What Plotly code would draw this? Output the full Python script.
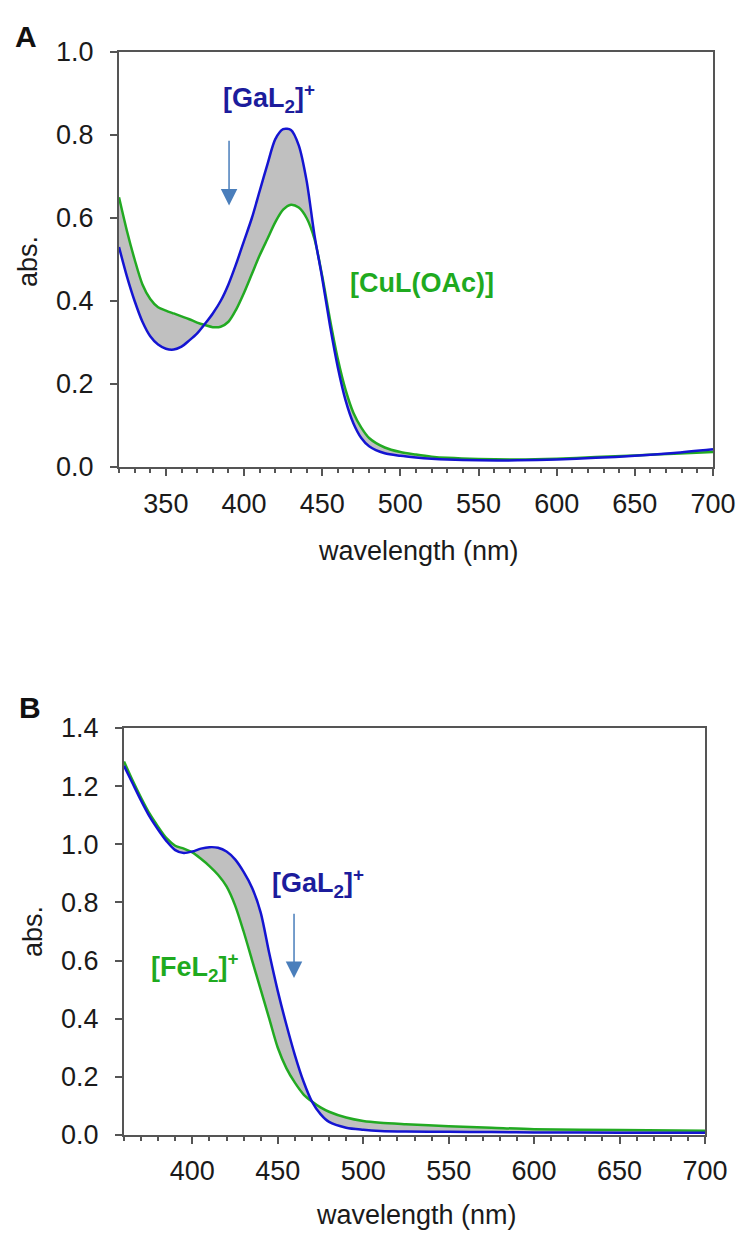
import plotly.graph_objects as go

# ---------------- data ----------------
wl_a = [320, 325, 330, 335, 340, 345, 350, 355, 360, 365, 370, 375, 380, 385, 390,
        395, 400, 405, 410, 415, 420, 425, 430, 435, 440, 445, 450, 455, 460, 465,
        470, 475, 480, 490, 500, 510, 520, 530, 550, 575, 600, 625, 650, 675, 700]
ga_a = [0.53, 0.46, 0.40, 0.35, 0.315, 0.295, 0.285, 0.283, 0.29, 0.305, 0.322, 0.345, 0.37, 0.40, 0.44,
        0.49, 0.545, 0.60, 0.665, 0.73, 0.79, 0.814, 0.812, 0.775, 0.69, 0.56, 0.455, 0.34, 0.24, 0.16,
        0.105, 0.07, 0.05, 0.033, 0.027, 0.023, 0.02, 0.018, 0.016, 0.016, 0.018, 0.022, 0.027, 0.034, 0.043]
cu_a = [0.65, 0.57, 0.50, 0.44, 0.405, 0.385, 0.377, 0.37, 0.363, 0.356, 0.348, 0.342, 0.337, 0.338, 0.35,
        0.38, 0.42, 0.465, 0.51, 0.55, 0.59, 0.62, 0.632, 0.625, 0.60, 0.55, 0.46, 0.355, 0.26, 0.185,
        0.13, 0.095, 0.07, 0.047, 0.036, 0.03, 0.025, 0.022, 0.019, 0.018, 0.02, 0.024, 0.028, 0.032, 0.036]

wl_b = [360, 365, 370, 375, 380, 385, 390, 395, 400, 405, 410, 415, 420, 425, 430, 435, 440,
        445, 450, 455, 460, 465, 470, 475, 480, 490, 500, 510, 525, 550, 575, 600, 650, 700]
ga_b = [1.27, 1.21, 1.15, 1.095, 1.05, 1.01, 0.98, 0.97, 0.975, 0.985, 0.99, 0.988, 0.975, 0.948, 0.905, 0.85, 0.765,
        0.625, 0.495, 0.38, 0.275, 0.185, 0.115, 0.072, 0.045, 0.025, 0.018, 0.014, 0.012, 0.011, 0.010, 0.009, 0.008, 0.008]
fe_b = [1.285, 1.22, 1.16, 1.105, 1.06, 1.02, 0.995, 0.985, 0.972, 0.95, 0.925, 0.895, 0.855, 0.79, 0.70, 0.60, 0.50,
        0.40, 0.30, 0.23, 0.18, 0.14, 0.115, 0.095, 0.08, 0.06, 0.048, 0.042, 0.037, 0.030, 0.025, 0.020, 0.017, 0.015]

yticks_a = [0.0, 0.2, 0.4, 0.6, 0.8, 1.0]
yticks_b = [0.0, 0.2, 0.4, 0.6, 0.8, 1.0, 1.2, 1.4]

# ---------------- styles ----------------
BLUE = "#1414d2"
GREEN = "#22aa22"
BLUE_TXT = "#1c1c9c"
GREEN_TXT = "#1faa1f"
FILL = "#c0c0c0"
AXC = "#555555"
ARROW = "#4a7ebb"
TXT = "#1a1a1a"
FONT = "Liberation Sans, Arial, sans-serif"
FS = 27

line_kw = dict(width=2.5, shape="spline", smoothing=0.8)

fig = go.Figure()
fig.add_trace(go.Scatter(x=wl_a, y=cu_a, mode="lines", xaxis="x", yaxis="y",
                         line=dict(color=GREEN, **line_kw), name="[CuL(OAc)]"))
fig.add_trace(go.Scatter(x=wl_a, y=ga_a, mode="lines", xaxis="x", yaxis="y",
                         fill="tonexty", fillcolor=FILL,
                         line=dict(color=BLUE, **line_kw), name="[GaL2]+"))
fig.add_trace(go.Scatter(x=wl_b, y=fe_b, mode="lines", xaxis="x2", yaxis="y2",
                         line=dict(color=GREEN, **line_kw), name="[FeL2]+"))
fig.add_trace(go.Scatter(x=wl_b, y=ga_b, mode="lines", xaxis="x2", yaxis="y2",
                         fill="tonexty", fillcolor=FILL,
                         line=dict(color=BLUE, **line_kw), name="[GaL2]+"))

W, H = 741, 1234


def xdom(l, r):
    return [l / W, r / W]


def ydom(top, bot):
    return [(H - bot) / H, (H - top) / H]


axis_common = dict(showline=True, linecolor=AXC, linewidth=2, mirror=True,
                   ticks="outside", tickcolor=AXC, tickwidth=1.5, ticklen=7,
                   showgrid=False, zeroline=False, automargin=False,
                   tickfont=dict(family=FONT, size=FS, color=TXT))
minor_kw = dict(dtick=10, ticks="outside", ticklen=4, tickcolor=AXC, tickwidth=1.5)

fig.update_layout(
    width=W, height=H, margin=dict(l=0, r=0, t=0, b=0),
    paper_bgcolor="white", plot_bgcolor="white", showlegend=False,
    xaxis=dict(domain=xdom(119, 713), range=[320, 700], anchor="y",
               tick0=300, dtick=50, ticklabelstandoff=5,
               minor=dict(tick0=320, **minor_kw), **axis_common),
    yaxis=dict(domain=ydom(52, 467), range=[0, 1.0], anchor="x",
               tickvals=yticks_a, tickformat=".1f", ticklabelstandoff=11, **axis_common),
    xaxis2=dict(domain=xdom(124, 705), range=[360, 700], anchor="y2",
                tick0=300, dtick=50, ticklabelstandoff=4,
                minor=dict(tick0=360, **minor_kw), **axis_common),
    yaxis2=dict(domain=ydom(728, 1135), range=[0, 1.4], anchor="x2",
                tickvals=yticks_b, tickformat=".1f", ticklabelstandoff=11, **axis_common),
)

title_font = dict(family=FONT, size=FS, color=TXT)
lab_font = dict(family=FONT, size=27)


def paper(xp, yp):
    return dict(xref="paper", yref="paper", x=xp / W, y=1 - yp / H,
                xanchor="center", yanchor="middle", showarrow=False)


annots = [
    # panel letters
    dict(text="<b>A</b>", font=dict(family=FONT, size=30, color="#111111"), **paper(26, 36)),
    dict(text="<b>B</b>", font=dict(family=FONT, size=30, color="#111111"), **paper(30, 707)),
    # axis titles
    dict(text="wavelength (nm)", font=title_font, **paper(418, 551)),
    dict(text="abs.", font=title_font, textangle=-90, **paper(28, 262)),
    dict(text="wavelength (nm)", font=title_font, **paper(416, 1215)),
    dict(text="abs.", font=title_font, textangle=-90, **paper(33, 932)),
    # panel A labels
    dict(text="<b>[GaL<sub>2</sub>]<sup>+</sup></b>", xref="x", yref="y", x=416, y=0.89,
         showarrow=False, font=dict(color=BLUE_TXT, **lab_font)),
    dict(text="<b>[CuL(OAc)]</b>", xref="x", yref="y", x=514, y=0.443,
         showarrow=False, font=dict(color=GREEN_TXT, **lab_font)),
    dict(text="", xref="x", yref="y", x=390.4, y=0.63, axref="x", ayref="y", ax=390.4, ay=0.79,
         showarrow=True, arrowhead=2, arrowsize=2.2, arrowwidth=1.5, arrowcolor=ARROW),
    # panel B labels
    dict(text="<b>[GaL<sub>2</sub>]<sup>+</sup></b>", xref="x2", yref="y2", x=473.5, y=0.866,
         showarrow=False, font=dict(color=BLUE_TXT, **lab_font)),
    dict(text="<b>[FeL<sub>2</sub>]<sup>+</sup></b>", xref="x2", yref="y2", x=401.5, y=0.577,
         showarrow=False, font=dict(color=GREEN_TXT, **lab_font)),
    dict(text="", xref="x2", yref="y2", x=459.5, y=0.54, axref="x2", ayref="y2", ax=459.5, ay=0.766,
         showarrow=True, arrowhead=2, arrowsize=2.2, arrowwidth=1.5, arrowcolor=ARROW),
]
fig.update_layout(annotations=annots)

fig.write_html("out.html")
